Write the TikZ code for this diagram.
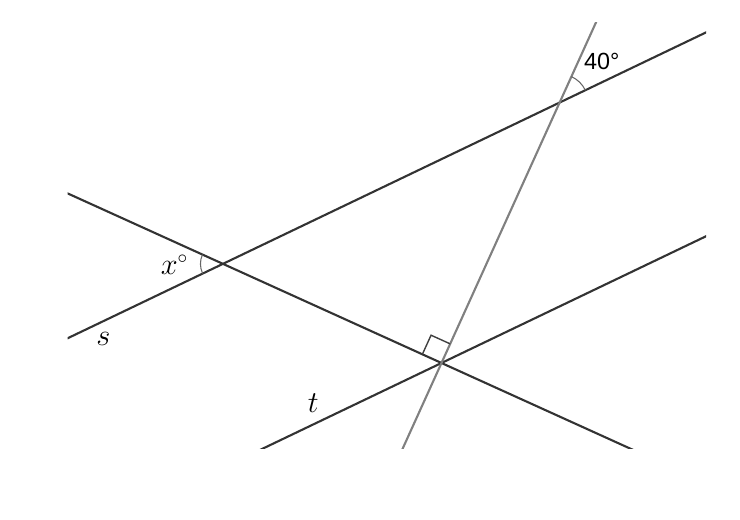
\documentclass[tikz,border=0pt]{standalone}
\usepackage{fontspec}
\newfontfamily\degfont{Liberation Sans}
\usetikzlibrary{calc}
\tikzset{>=latex}

\begin{document}
\begin{tikzpicture}
    \useasboundingbox (0,0) rectangle (14.8,10.4);
    \coordinate (C) at (8.83,3.14);
    \coordinate (A) at ($(C)+(155.6:4.8)$);
    \coordinate (B) at ($(C)+(65.6:5.72)$);
    \begin{scope}
      \clip (1.354,1.434) rectangle (14.12,9.946);
      \draw [line width=1.2pt,black!80] ($(A)+(205.6:10)$) -- ($(A)+(25.6:15)$);
      \draw [line width=1.2pt,black!80] ($(C)+(205.6:10)$) -- ($(C)+(25.6:10)$);
      \draw [line width=1.2pt,black!80] ($(C)+(155.6:12)$) -- ($(C)+(-24.4:10)$);
      \draw [line width=1.2pt,black!50] ($(C)+(245.6:5)$) -- ($(C)+(65.6:10)$);
    \end{scope}
    \draw [line width=0.6pt,black!60] ($(B)+(25.6:0.57)$) arc [start angle=25.6,end angle=65.6,radius=0.57];
    \draw [line width=0.6pt,black!60] ($(A)+(155.6:0.45)$) arc [start angle=155.6,end angle=205.6,radius=0.45];
    \draw [line width=0.8pt,black!75] ($(C)+(155.6:0.42)$) -- ++(65.6:0.42) -- ++(-24.4:0.42);
    \node (angB) at (12.034,9.166) {\fontsize{13.3}{16}\degfont 40°};
    \node (angA) at (3.49,5.1) {\fontsize{16}{19}\selectfont $x^\circ$};
    \node (lblS) at (2.066,3.614) {\fontsize{16}{19}\selectfont $s$};
    \node (lblT) at (6.266,2.334) {\fontsize{16}{19}\selectfont $t$};
\end{tikzpicture}
\end{document}
